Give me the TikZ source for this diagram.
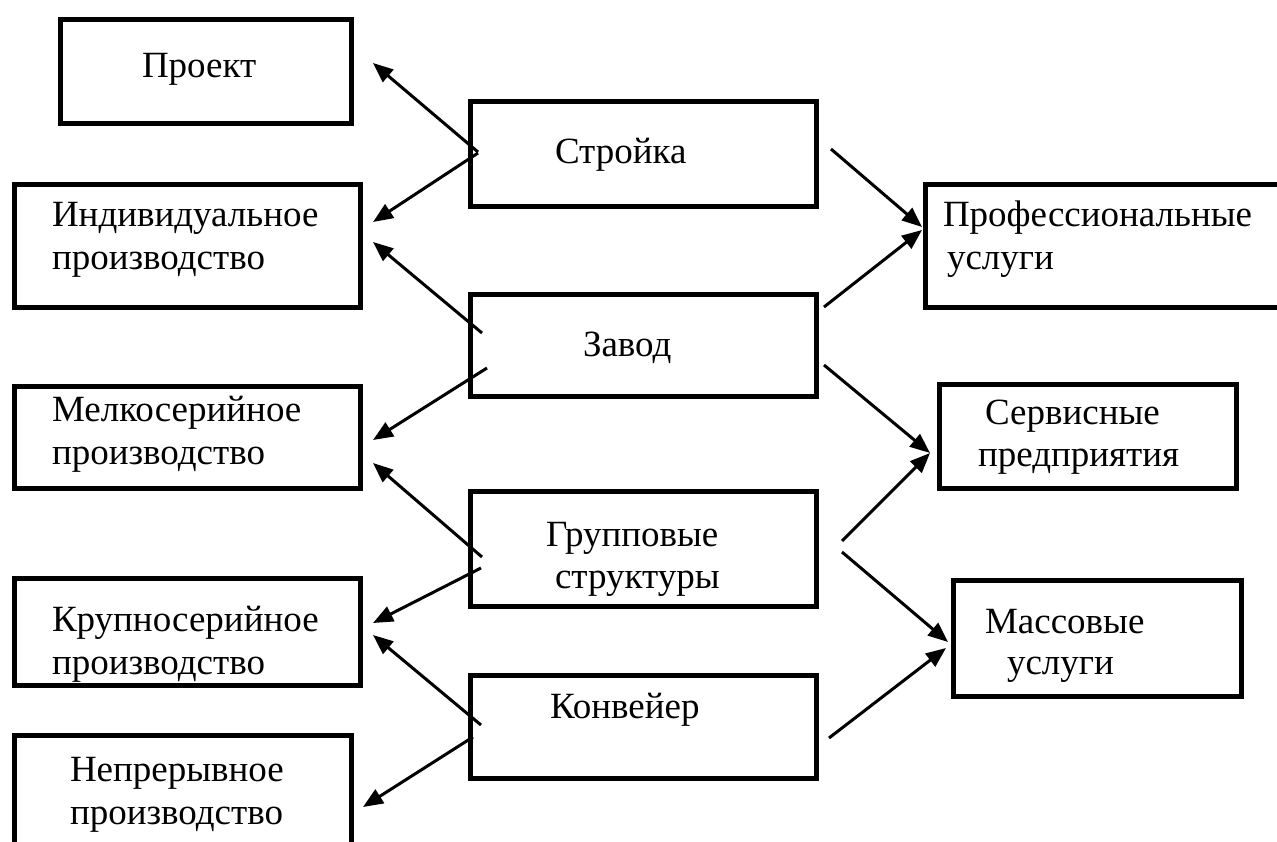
\documentclass[tikz,border=0pt]{standalone}
\usepackage{fontspec}
\setmainfont{Liberation Serif}
\usetikzlibrary{arrows.meta}
\begin{document}
\begin{tikzpicture}[x=1pt,y=-1pt,
  box/.style={draw=black, line width=5pt, rectangle, inner sep=0pt, outer sep=0pt, anchor=north west},
  lbl/.style={anchor=base west, inner sep=0pt, outer sep=0pt, font=\fontsize{37}{44}\selectfont},
  link/.style={line width=3pt, -{Triangle[length=20pt,width=16pt]}}]
\useasboundingbox[fill=white] (0,0) rectangle (1277,841);

% left column
\node[box, minimum width=291pt, minimum height=104pt] (proj)  at (60,19)  {};
\node[box, minimum width=346pt, minimum height=123pt] (indiv) at (14,184) {};
\node[box, minimum width=346pt, minimum height=102pt] (melk)  at (14,386) {};
\node[box, minimum width=346pt, minimum height=107pt] (krup)  at (14,578) {};
\node[box, minimum width=337pt, minimum height=140pt] (nepr)  at (14,735) {};

% middle column
\node[box, minimum width=346pt, minimum height=105pt] (stroy) at (470,101) {};
\node[box, minimum width=346pt, minimum height=102pt] (zavod) at (470,294) {};
\node[box, minimum width=346pt, minimum height=115pt] (grupp) at (470,491) {};
\node[box, minimum width=346pt, minimum height=103pt] (konv)  at (470,675) {};

% right column
\node[box, minimum width=380pt, minimum height=123pt] (prof)  at (925,184) {};
\node[box, minimum width=297pt, minimum height=104pt] (serv)  at (939,384) {};
\node[box, minimum width=288pt, minimum height=116pt] (mass)  at (953,580) {};

% captions
\node[lbl] (projT)   at (142,77)  {Проект};
\node[lbl] (indivT1) at (52,226)  {Индивидуальное};
\node[lbl] (indivT2) at (52,269)  {производство};
\node[lbl] (melkT1)  at (52,421)  {Мелкосерийное};
\node[lbl] (melkT2)  at (52,464)  {производство};
\node[lbl] (krupT1)  at (52,631)  {Крупносерийное};
\node[lbl] (krupT2)  at (52,674)  {производство};
\node[lbl] (neprT1)  at (70,781)  {Непрерывное};
\node[lbl] (neprT2)  at (70,824)  {производство};
\node[lbl] (stroyT)  at (555,163) {Стройка};
\node[lbl] (zavodT)  at (583,356) {Завод};
\node[lbl] (gruppT1) at (546,546) {Групповые};
\node[lbl] (gruppT2) at (555,588) {структуры};
\node[lbl] (konvT)   at (550,718) {Конвейер};
\node[lbl] (profT1)  at (943,226) {Профессиональные};
\node[lbl] (profT2)  at (947,269) {услуги};
\node[lbl] (servT1)  at (985,424) {Сервисные};
\node[lbl] (servT2)  at (978,466) {предприятия};
\node[lbl] (massT1)  at (985,633) {Массовые};
\node[lbl] (massT2)  at (1007,674) {услуги};

% connector end points
\coordinate (s1) at (478,152);  \coordinate (p1) at (373,63);
\coordinate (s2) at (478,153);  \coordinate (p2) at (373,222);
\coordinate (s3) at (482,333);  \coordinate (p3) at (373,242);
\coordinate (s4) at (487,368);  \coordinate (p4) at (373,440);
\coordinate (s5) at (482,557);  \coordinate (p5) at (373,463);
\coordinate (s6) at (481,568);  \coordinate (p6) at (373,623);
\coordinate (s7) at (481,725);  \coordinate (p7) at (373,635);
\coordinate (s8) at (473,737);  \coordinate (p8) at (363,807);
\coordinate (r1) at (831,149);  \coordinate (q1) at (922,227);
\coordinate (r2) at (824,307);  \coordinate (q2) at (922,230);
\coordinate (r3) at (824,365);  \coordinate (q3) at (930,453);
\coordinate (r4) at (842,541);  \coordinate (q4) at (930,453);
\coordinate (r5) at (842,552);  \coordinate (q5) at (948,642);
\coordinate (r6) at (829,738);  \coordinate (q6) at (946,648);

% connectors to the left
\draw[link] (s1) -- (p1);
\draw[link] (s2) -- (p2);
\draw[link] (s3) -- (p3);
\draw[link] (s4) -- (p4);
\draw[link] (s5) -- (p5);
\draw[link] (s6) -- (p6);
\draw[link] (s7) -- (p7);
\draw[link] (s8) -- (p8);
% connectors to the right
\draw[link] (r1) -- (q1);
\draw[link] (r2) -- (q2);
\draw[link] (r3) -- (q3);
\draw[link] (r4) -- (q4);
\draw[link] (r5) -- (q5);
\draw[link] (r6) -- (q6);
\end{tikzpicture}
\end{document}
